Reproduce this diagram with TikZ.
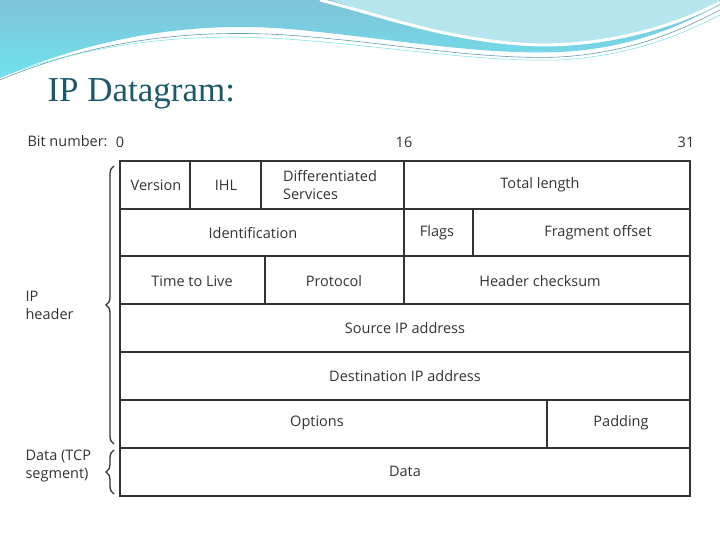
\documentclass[tikz,border=0pt]{standalone}
\usepackage{fontspec}
\setmainfont{Liberation Serif}
\newfontfamily\tabfont{Open Sans}
\usetikzlibrary{decorations.pathreplacing}
\definecolor{wave1}{HTML}{7FC3D8}
\definecolor{wave2}{HTML}{6FE3EE}
\definecolor{wave3}{HTML}{B5E6EE}
\definecolor{titlec}{HTML}{1B5A6B}
\definecolor{txt}{HTML}{333333}
\tikzset{
  cell/.style={draw=txt, line width=1.1pt},
  lab/.style={font=\tabfont\fontsize{14.5pt}{18pt}\selectfont, text=txt, align=left},
  brc/.style={decorate, decoration={brace, amplitude=8pt, mirror}, draw=txt, line width=1.3pt}
}
\begin{document}
\begin{tikzpicture}[x=1pt,y=-1pt]
\useasboundingbox (0,0) rectangle (720,540);
\fill[white] (0,0) rectangle (720,540);
% wave decoration
\shade[top color=wave1, bottom color=wave2] (0,0) -- (0,78) .. controls (100,35) and (200,20) .. (300,30) .. controls (400,40) and (480,55) .. (560,52) .. controls (640,48) and (690,20) .. (720,5) -- (720,0) -- cycle;
\fill[wave3] (330,0) .. controls (380,15) and (440,38) .. (520,44) .. controls (600,50) and (680,25) .. (720,0) -- cycle;
\draw[white, line width=3pt] (320,0) .. controls (380,15) and (440,38) .. (520,44) .. controls (600,50) and (680,25) .. (720,2);
\draw[wave1!80!black, line width=0.6pt] (0,80) .. controls (100,38) and (200,28) .. (300,36) .. controls (400,44) and (480,60) .. (560,57) .. controls (640,52) and (690,25) .. (720,10);
\draw[wave2, line width=0.5pt] (0,77) .. controls (100,40) and (200,32) .. (300,40) .. controls (400,48) and (480,62) .. (560,60) .. controls (640,55) and (690,30) .. (720,15);
\node[anchor=west, font=\fontsize{35pt}{40pt}\selectfont, text=titlec] (title) at (44,94) {IP Datagram:};
% header row labels
\node[lab, anchor=west] (bn) at (24,141) {Bit number:};
\node[lab] (b0) at (120,142) {0};
\node[lab] (b16) at (404,142) {16};
\node[lab] (b31) at (686,142) {31};
% cells
\draw[cell] (120,161) rectangle (690,496);
\foreach \y in {209,256,304,352,400,448} \draw[cell] (120,\y) -- (690,\y);
\draw[cell] (190,161) -- (190,209);
\draw[cell] (261,161) -- (261,209);
\draw[cell] (404,161) -- (404,304);
\draw[cell] (473,209) -- (473,256);
\draw[cell] (265,256) -- (265,304);
\draw[cell] (547,400) -- (547,448);
\node[lab] (ver) at (156,185) {Version};
\node[lab] (ihl) at (226,185) {IHL};
\node[lab] (ds) at (330,185) {Differentiated\\Services};
\node[lab] (tl) at (540,185) {Total length};
\node[lab] (id) at (253,233) {Identification};
\node[lab] (fl) at (437,233) {Flags};
\node[lab] (fo) at (598,233) {Fragment offset};
\node[lab] (ttl) at (192,281) {Time to Live};
\node[lab] (pr) at (334,281) {Protocol};
\node[lab] (hc) at (540,281) {Header checksum};
\node[lab] (src) at (405,328) {Source IP address};
\node[lab] (dst) at (405,376) {Destination IP address};
\node[lab] (opt) at (317,423) {Options};
\node[lab] (pad) at (621,423) {Padding};
\node[lab] (dat) at (405,471) {Data};
% braces
\coordinate (h1) at (114,166);
\coordinate (h2) at (114,444);
\coordinate (d1) at (114,450);
\coordinate (d2) at (114,494);
\draw[brc] (h1) -- (h2);
\draw[brc] (d1) -- (d2);
\node[lab, anchor=west] (iph) at (22,305) {IP\\header};
\node[lab, anchor=west] (dtc) at (22,466) {Data (TCP\\segment)};
\end{tikzpicture}
\end{document}
